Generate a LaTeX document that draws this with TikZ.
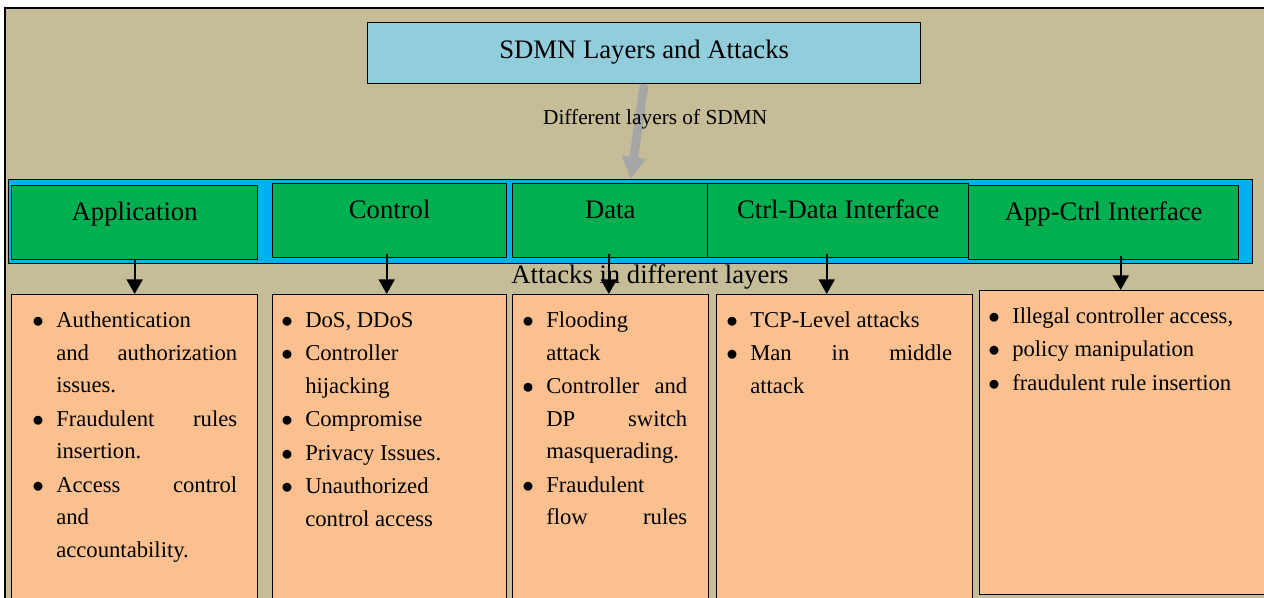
\documentclass[tikz,border=0pt]{standalone}
\usepackage{fontspec}
\setmainfont{Liberation Serif}
\usetikzlibrary{arrows.meta}
\definecolor{tan}{HTML}{C4BD97}
\definecolor{sky}{HTML}{92CDDC}
\definecolor{bandblue}{HTML}{00B0F0}
\definecolor{layergreen}{HTML}{00B050}
\definecolor{peach}{HTML}{FAC090}
\definecolor{arrowgray}{HTML}{A6A6A6}
\newenvironment{atklist}{\begin{list}{$\bullet$}{\setlength{\leftmargin}{14.25pt}%
  \setlength{\labelwidth}{9pt}\setlength{\labelsep}{9.25pt}\setlength{\itemsep}{0.5pt}%
  \setlength{\parsep}{0pt}\setlength{\topsep}{0pt}\setlength{\partopsep}{0pt}%
  \setlength{\itemindent}{0pt}\setlength{\listparindent}{0pt}}}{\end{list}}

\begin{document}
\begin{tikzpicture}[x=0.75pt,y=-0.75pt,
  layer/.style={draw,line width=1pt,fill=layergreen,anchor=north west,inner sep=0pt,
    text height=26.25pt,text depth=29.25pt,font=\fontsize{20}{24}\selectfont},
  atkbox/.style={draw,line width=1pt,fill=peach,anchor=north west,inner sep=0pt},
  atktxt/.style={anchor=north west,inner sep=0pt,align=justify,
    font=\fontsize{17}{24.5}\selectfont},
  arr/.style={line width=1.5pt,-{Triangle[width=12pt,length=11pt]}}]
\useasboundingbox(0,0)rectangle(1264,597);
\clip(0,0)rectangle(1264,597);
\filldraw[fill=tan,line width=1pt](5,8)rectangle(1290,620);
\node[draw,line width=1pt,fill=sky,anchor=north west,inner sep=0pt,minimum width=414.75pt,
  text height=27pt,text depth=18.75pt,font=\fontsize{20}{24}\selectfont]at(367,22)(title){SDMN Layers and Attacks};
\node[draw,line width=1pt,fill=bandblue,anchor=north west,inner sep=0pt,
  minimum width=933pt,minimum height=63pt]at(8,179)(band){};
% layers
\node[layer,minimum width=184.5pt]at(11,185)(app){Application};
\node[layer,minimum width=175.5pt]at(272,183)(ctrl){Control};
\node[layer,minimum width=146.25pt]at(512,183)(data){Data};
\node[layer,minimum width=195.75pt]at(707,183)(cd){Ctrl-Data Interface};
\node[layer,minimum width=202.5pt]at(968,185)(ac){App-Ctrl Interface};
% attacks
\node[atkbox,minimum width=184.5pt,minimum height=240pt]at(11,294)(appatk){};
\node[atkbox,minimum width=175.5pt,minimum height=240pt]at(272,294)(ctrlatk){};
\node[atkbox,minimum width=147pt,minimum height=240pt]at(512,294)(dataatk){};
\node[atkbox,minimum width=192pt,minimum height=240pt]at(716,294)(cdatk){};
\node[atkbox,minimum width=216.75pt,minimum height=228pt]at(979,290)(acatk){};
\node[atktxt,text width=150pt]at([shift={(26,0.5)}]appatk.north west)(apptxt){%
\begin{atklist}
\item Authentication\\ and\hfill authorization\\ issues.
\item Fraudulent\hfill rules\\ insertion.
\item Access\hfill control\\ and\\ accountability.
\end{atklist}};
\node[atktxt,text width=150pt]at([shift={(14,0.5)}]ctrlatk.north west)(ctrltxt){%
\begin{atklist}
\item DoS, DDoS
\item Controller\\ hijacking
\item Compromise
\item Privacy Issues.
\item Unauthorized\\ control access
\end{atklist}};
\node[atktxt,text width=120pt]at([shift={(15,0.5)}]dataatk.north west)(datatxt){%
\begin{atklist}
\item Flooding\\ attack
\item Controller\hfill and\\ DP\hfill switch\\ masquerading.
\item Fraudulent\\ flow\hfill rules
\end{atklist}};
\node[atktxt,text width=165.75pt]at([shift={(15,0.5)}]cdatk.north west)(cdtxt){%
\begin{atklist}
\item TCP-Level attacks
\item Man\hfill in\hfill middle\\ attack
\end{atklist}};
\node[atktxt,text width=192.75pt]at([shift={(14,0.5)}]acatk.north west)(actxt){%
\begin{atklist}
\item Illegal controller access,
\item policy manipulation
\item fraudulent rule insertion
\end{atklist}};
\node[font=\fontsize{20}{24}\selectfont]at(650,277)(layers){Attacks in different layers};
% connectors
\draw[draw=arrowgray,line width=6.5pt,-{Triangle[width=17pt,length=16.5pt]}](title.south)--(band.north)
  node[pos=0.37,xshift=12pt,font=\fontsize{16}{19}\selectfont]{Different layers of SDMN};
\draw[arr](app.south)--(app.south|-appatk.north);
\draw[arr]([xshift=-2.25pt,yshift=3pt]ctrl.south)--([xshift=-2.25pt]ctrl.south|-ctrlatk.north);
\draw[arr]([xshift=-1pt,yshift=3pt]data.south)--([xshift=-1pt]data.south|-dataatk.north);
\draw[arr]([xshift=-8.6pt,yshift=3pt]cd.south)--([xshift=-8.6pt]cd.south|-cdatk.north);
\draw[arr]([xshift=12.75pt,yshift=3pt]ac.south)--([xshift=12.75pt]ac.south|-acatk.north);
\end{tikzpicture}
\end{document}
